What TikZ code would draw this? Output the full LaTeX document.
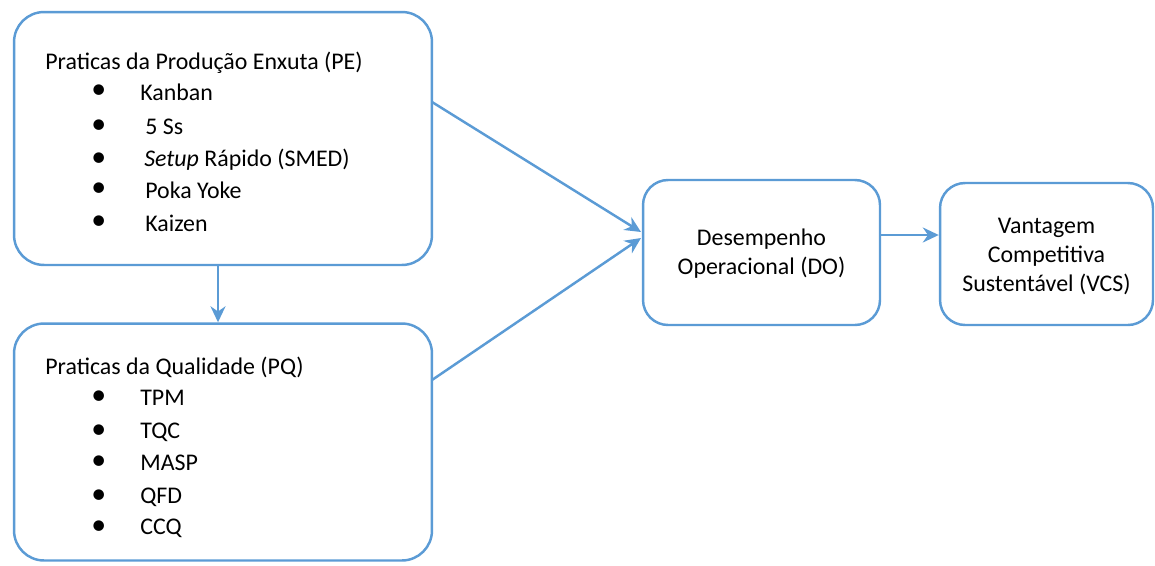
\documentclass[tikz,border=0pt]{standalone}
\usepackage{fontspec}
\setmainfont{Carlito}
\usetikzlibrary{arrows.meta}
\definecolor{boxblue}{HTML}{5B9BD5}
\tikzset{
  caixa/.style={draw=boxblue, line width=1.4pt, rounded corners=0.6cm, inner sep=0pt},
  seta/.style={draw=boxblue, line width=1.4pt, -{Stealth[length=3.2mm,width=3mm]}},
  texto/.style={anchor=west, inner sep=0pt, font=\fontsize{13.6}{16}\selectfont},
  marca/.style={anchor=west, inner sep=0pt, font=\fontsize{17}{16}\selectfont},
  centro/.style={align=center, inner sep=0pt, font=\fontsize{13.6}{16.5}\selectfont},
}
\begin{document}
\begin{tikzpicture}[x=0.02cm,y=-0.02cm]
\useasboundingbox (0,0) rectangle (1155,565);

% caixas
\node[caixa, minimum width=8.36cm, minimum height=5.06cm] (pe) at (223,138.5) {};
\node[caixa, minimum width=8.36cm, minimum height=4.74cm] (pq) at (223,442) {};
\node[caixa, minimum width=4.74cm, minimum height=2.9cm, rounded corners=0.5cm] (do) at (761.5,252.5) {};
\node[caixa, minimum width=4.26cm, minimum height=2.84cm, rounded corners=0.5cm] (vcs) at (1046.5,254) {};

% textos PE
\node[texto] (petit) at (45,63) {Praticas da Produção Enxuta (PE)};
\node[marca] (peb1) at (91,92) {\textbullet};
\node[texto] (pei1) at (140,92) {Kanban};
\node[marca] (peb2) at (91,127) {\textbullet};
\node[texto] (pei2) at (145,127) {5 Ss};
\node[marca] (peb3) at (91,160) {\textbullet};
\node[texto] (pei3) at (144,160) {\textit{Setup} Rápido (SMED)};
\node[marca] (peb4) at (91,190) {\textbullet};
\node[texto] (pei4) at (145,190) {Poka Yoke};
\node[marca] (peb5) at (91,223) {\textbullet};
\node[texto] (pei5) at (145,223) {Kaizen};

% textos PQ
\node[texto] (pqtit) at (45,367) {Praticas da Qualidade (PQ)};
\node[marca] (pqb1) at (91,398) {\textbullet};
\node[texto] (pqi1) at (140,398) {TPM};
\node[marca] (pqb2) at (91,432) {\textbullet};
\node[texto] (pqi2) at (140,432) {TQC};
\node[marca] (pqb3) at (91,463) {\textbullet};
\node[texto] (pqi3) at (140,463) {MASP};
\node[marca] (pqb4) at (91,497) {\textbullet};
\node[texto] (pqi4) at (140,497) {QFD};
\node[marca] (pqb5) at (91,528) {\textbullet};
\node[texto] (pqi5) at (140,528) {CCQ};

\node[centro] (dotxt) at (761.5,254) {Desempenho\\Operacional (DO)};
\node[centro] (vcstxt) at (1046.5,256) {Vantagem\\Competitiva\\Sustentável (VCS)};

% setas
\coordinate (pe1) at (432,102);
\coordinate (pq1) at (432,380);
\coordinate (do1) at (641,232);
\coordinate (do2) at (641,238);
\path[seta] (pe1) -- (do1);
\path[seta] (pq1) -- (do2);
\path[seta] (pe.south -| 218,0) -- (pq.north -| 218,0);
\path[seta] (do.east |- 0,235) -- (vcs.west |- 0,235);
\end{tikzpicture}
\end{document}
